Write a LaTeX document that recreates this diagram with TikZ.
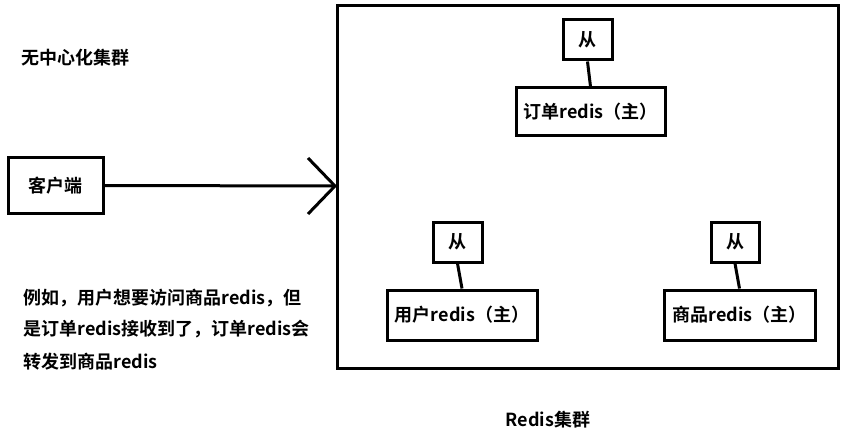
\documentclass[tikz,border=0pt]{standalone}
\usepackage{fontspec}
\setmainfont{Noto Sans CJK SC}[BoldFont={Noto Sans CJK SC Bold}]
\begin{document}
\begin{tikzpicture}[x=1pt,y=-1pt,
  bx/.style={draw,line width=3pt,inner sep=0pt},
  ln/.style={line width=3pt},
  tx/.style={font=\bfseries\fontsize{18}{21}\selectfont}]
\useasboundingbox (0,0) rectangle (849,441);
\draw[ln] (337,6) rectangle (838,368);
\node[tx,anchor=west] (t1) at (18,58) {无中心化集群};
\node[bx,tx,minimum width=95pt,minimum height=55pt] (c) at (55.5,185.5) {客户端};
\coordinate (ah) at (335,186);
\draw[ln] (c.east) -- (ah);
\draw[ln] (308,158) -- (ah) -- (308,214);
\node[bx,tx,minimum width=49pt,minimum height=40pt] (s1) at (587.5,40) {从};
\node[bx,tx,minimum width=149pt,minimum height=48pt] (m1) at (590.5,112) {订单redis（主）};
\draw[ln] (s1.south) -- (m1.north);
\node[bx,tx,minimum width=49pt,minimum height=40pt] (s2) at (457.5,242) {从};
\node[bx,tx,minimum width=150pt,minimum height=50pt] (m2) at (462,315) {用户redis（主）};
\draw[ln] (s2.south) -- (m2.north);
\node[bx,tx,minimum width=48pt,minimum height=40pt] (s3) at (735,242) {从};
\node[bx,tx,minimum width=151pt,minimum height=50pt] (m3) at (739.5,315) {商品redis（主）};
\draw[ln] (s3.south) -- (m3.north);
\node[tx,anchor=west] (l1) at (20,298) {例如，用户想要访问商品redis，但};
\node[tx,anchor=west] (l2) at (20,329) {是订单redis接收到了，订单redis会};
\node[tx,anchor=west] (l3) at (20,362) {转发到商品redis};
\node[tx] (r) at (548,420) {Redis集群};
\end{tikzpicture}
\end{document}
